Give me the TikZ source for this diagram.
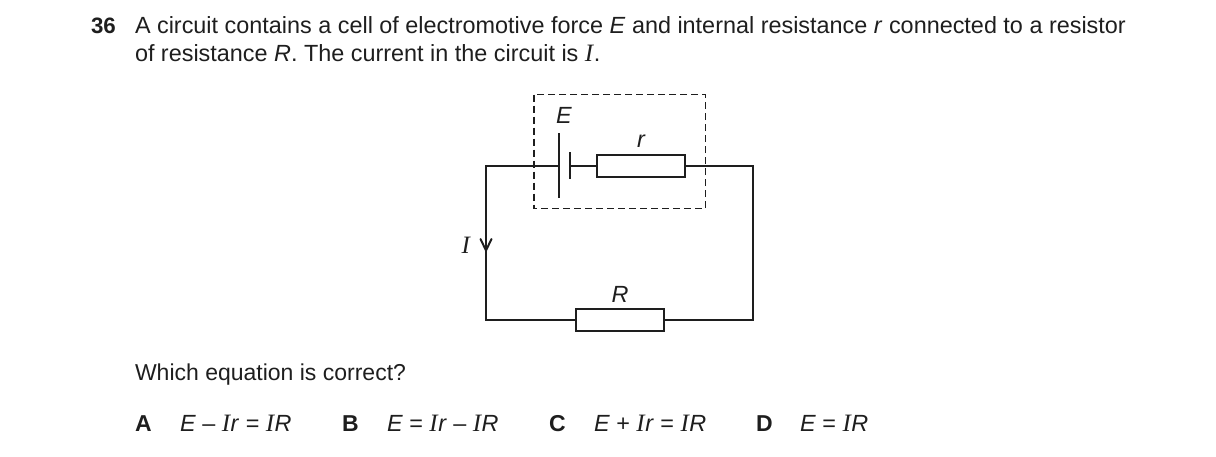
\documentclass[tikz,border=0pt]{standalone}
\usepackage{fontspec}
\setmainfont{Liberation Sans}
\newfontfamily\serifI{Liberation Serif}
\newcommand{\cI}{{\serifI\itshape\fontsize{25}{26}\selectfont I\kern0.5pt}}
\definecolor{ink}{HTML}{1E1E1E}
\tikzset{
  x=1pt,y=-1pt,
  txt/.style={anchor=base west,inner sep=0pt,outer sep=0pt,text=ink,font=\fontsize{23.4}{26}\selectfont},
  btxt/.style={txt,font=\fontsize{23}{26}\selectfont\bfseries},
  lbl/.style={inner sep=0pt,outer sep=0pt,text=ink,font=\fontsize{23.4}{26}\selectfont\itshape},
  wire/.style={draw=ink,line width=2pt},
  res/.style={draw=ink,line width=2pt,fill=white,rectangle,inner sep=0pt,outer sep=0pt,minimum width=88pt,minimum height=22pt},
  plate/.style={draw=ink,line width=2pt},
  dashbox/.style={draw=ink,line width=1.2pt,dash pattern=on 7pt off 4pt},
}
\begin{document}
\begin{tikzpicture}
\useasboundingbox (0,0) rectangle (1216,456);
% text
\node[btxt,font=\fontsize{22.3}{26}\selectfont\bfseries] (qn) at (91,33) {36};
\node[txt] (l1) at (135,33) {A circuit contains a cell of electromotive force \textit{E} and internal resistance \textit{r} connected to a resistor};
\node[txt] (l2) at (135,61) {of resistance \textit{R}. The current in the circuit is \cI.};
\node[txt,font=\fontsize{23}{26}\selectfont] (q) at (135,380) {Which equation is correct?};
\node[btxt] (a) at (135,431) {A};
\node[txt] (ae) at (180,431) {\textit{E} – \cI\textit{r} = \cI\textit{R}};
\node[btxt] (b) at (342,431) {B};
\node[txt] (be) at (387,431) {\textit{E} = \cI\textit{r} – \cI\textit{R}};
\node[btxt] (c) at (549,431) {C};
\node[txt] (ce) at (594,431) {\textit{E} + \cI\textit{r} = \cI\textit{R}};
\node[btxt] (d) at (756,431) {D};
\node[txt] (de) at (800,431) {\textit{E} = \cI\textit{R}};
% dashed box
\draw[dashbox] (534,94.5) rectangle (705.5,208.5);
% circuit
\node[res] (rint) at (641,166) {};
\node[res] (rext) at (620,320) {};
\coordinate (pl) at (559,165.5);
\coordinate (ps) at (570,165.5);
\coordinate (tl) at (486,165.5);
\coordinate (tr) at (753,165.5);
\coordinate (bl) at (486,320);
\coordinate (br) at (753,320);
\coordinate (tip) at (486,250.5);
\draw[wire,line join=miter] (pl) -- (tl) -- (bl) -- (rext.west);
\draw[wire,line join=miter] (rext.east) -- (br) -- (tr) -- (rint.east |- tr);
\draw[wire] (ps) -- (rint.west |- ps);
\draw[plate] (559,133) -- (559,198);
\draw[plate] (570,152) -- (570,179);
\draw[wire,line cap=round,line join=miter] (480.5,239) -- (tip) -- (491.5,239);
% labels
\node[lbl] (E) at (564,115) {E};
\node[lbl] (r) at (641,141) {r};
\node[lbl] (R) at (620,294) {R};
\node[lbl,font=\fontsize{23.4}{26}\selectfont] (I) at (466,245) {\cI};
\end{tikzpicture}
\end{document}
